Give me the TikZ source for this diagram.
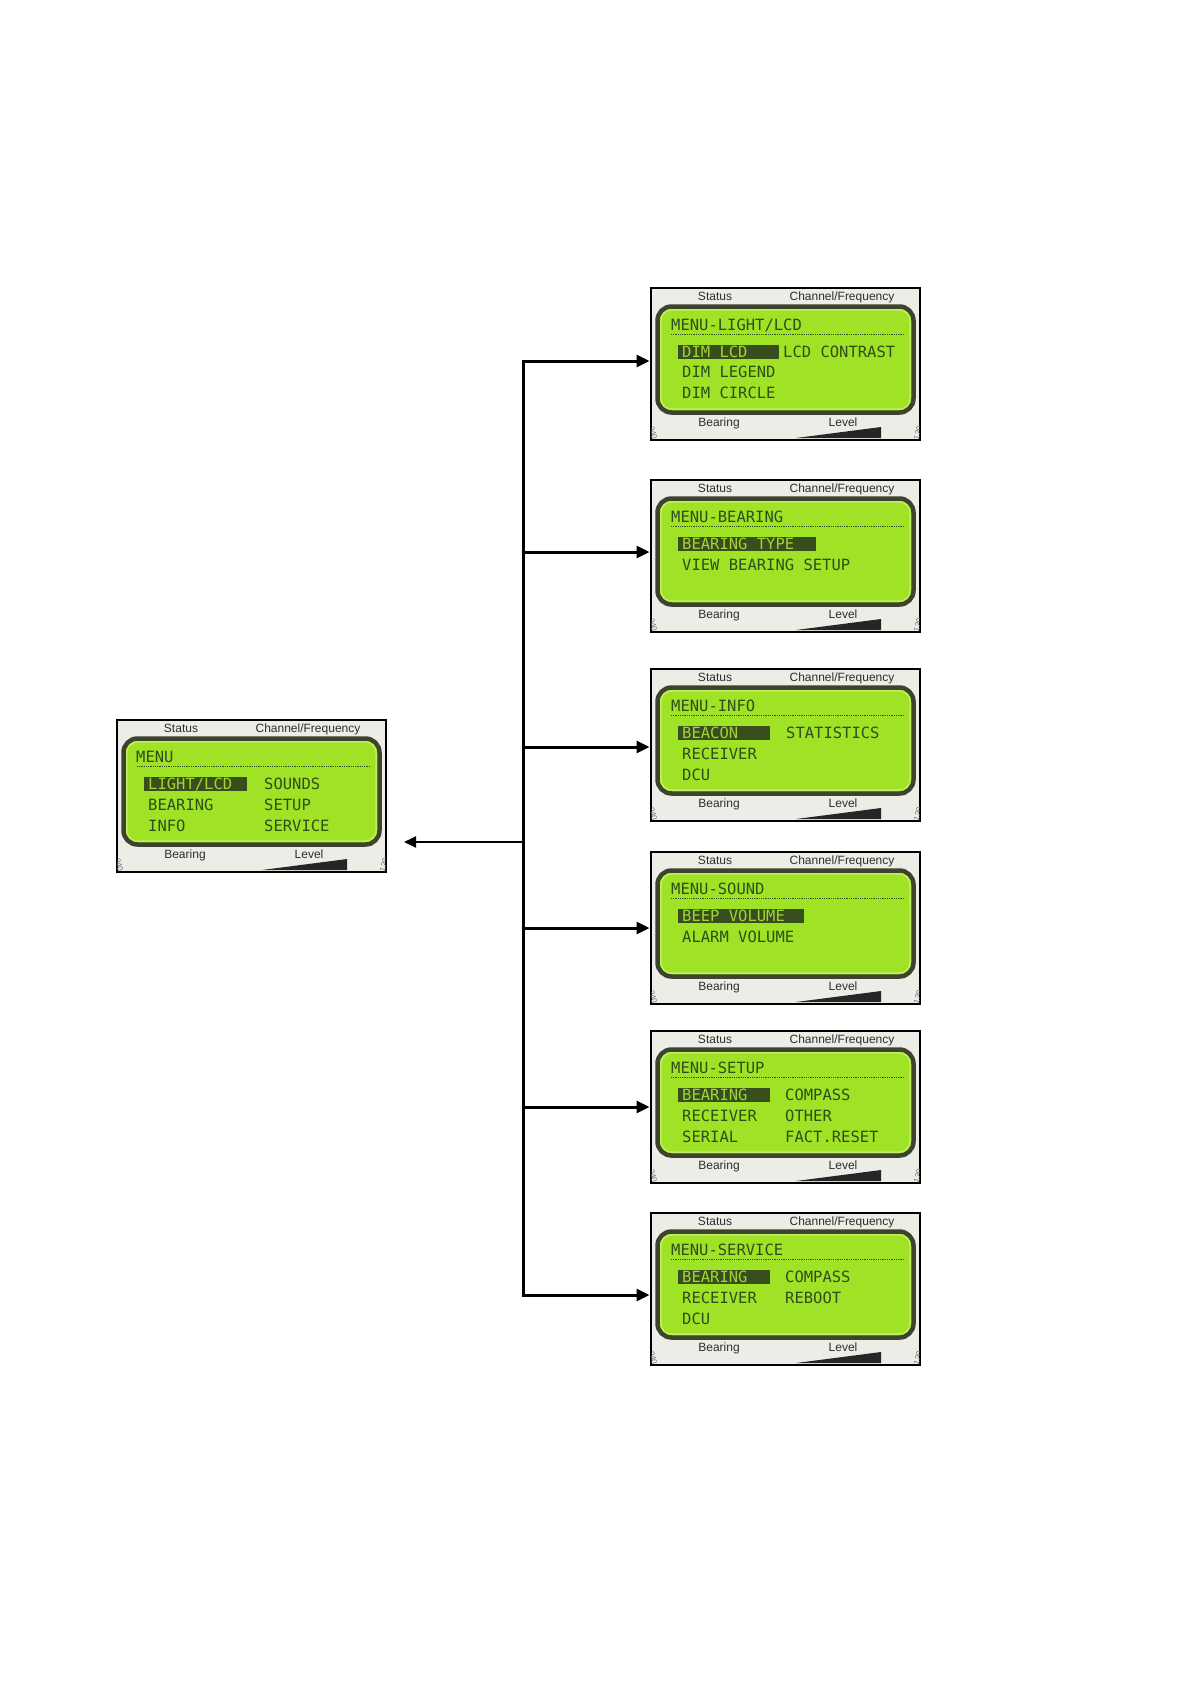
\documentclass[tikz,border=0pt]{standalone}
\usepackage{fontspec}
\setmainfont{Liberation Sans}
\newfontfamily\lcdfont{DejaVu Sans Mono}
\usetikzlibrary{arrows.meta,calc}
\definecolor{lcdgreen}{RGB}{160,226,38}
\definecolor{lcdrim}{RGB}{192,238,96}
\definecolor{bezel}{RGB}{60,68,46}
\definecolor{lcdink}{RGB}{48,78,24}
\definecolor{hlbg}{RGB}{56,78,28}
\definecolor{hltext}{RGB}{160,214,52}
\definecolor{framebg}{RGB}{237,237,231}
\definecolor{lbltext}{RGB}{45,45,45}
\tikzset{
 scr/.style={draw=black, line width=1.2pt, fill=framebg, minimum width=269pt, minimum height=152pt, inner sep=0pt, outer sep=0pt},
 lbl/.style={font=\fontsize{12}{12}\selectfont, text=lbltext, inner sep=0pt, anchor=base},
 tiny/.style={font=\fontsize{8}{8}\selectfont, text=black!55, inner sep=0pt},
 lcdtext/.style={font=\lcdfont\fontsize{15.5}{15.5}\selectfont, text=lcdink, inner sep=0pt, anchor=base west},
 lcdhl/.style={lcdtext, text=hltext},
 trunk/.style={line width=3pt, line cap=rect},
 conn/.style={line width=3pt, shorten >=1.5pt, -{Triangle[length=13pt,width=12pt]}},
 back/.style={line width=2pt, -{Triangle[length=12pt,width=11pt]}},
}
\newcommand{\lcdscreen}[5]{%
  \node[scr, anchor=north west] (#1) at (#2,#3) {};
  \begin{scope}[shift={(#1.north west)}]
    \begin{scope}
      \clip (0.6,0.6) rectangle (268.4,151.4);
      \node[tiny, rotate=-75] (#1-n1) at (2,145) {240};
      \node[tiny, rotate=75] (#1-n2) at (267,145) {120};
    \end{scope}
    \node[lbl] (#1-st) at (64,12.5) {Status};
    \node[lbl] (#1-cf) at (191,12.5) {Channel/Frequency};
    \draw[line width=4.5pt, draw=bezel, fill=lcdgreen, rounded corners=14pt] (6.5,18.5) rectangle (262.5,124.5);
    \draw[line width=1.5pt, draw=lcdrim, rounded corners=11pt] (9.8,21.8) rectangle (259.2,121.2);
    \draw[lcdink, line width=1.6pt, dash pattern=on 1pt off 0.8pt] (20,46.5) -- (254,46.5);
    \fill[hlbg] (27,56.5) rectangle (#4,70.5);
    \node[lbl] (#1-br) at (68,138) {Bearing};
    \node[lbl] (#1-lv) at (192,138) {Level};
    \fill[black!85] (145,150) -- (230,139) -- (230,150) -- cycle;
    #5
  \end{scope}}
\begin{document}
\begin{tikzpicture}[x=1pt,y=-1pt]
\fill[white] (0,0) rectangle (1190,1684);
\useasboundingbox (0,0) rectangle (1190,1684);

% main menu
\lcdscreen{menu}{117}{720}{130}{
 \node[lcdtext] (m-t) at (19,42) {MENU};
 \node[lcdhl] (m-a1) at (31,69.5) {LIGHT/LCD};
 \node[lcdtext] (m-b1) at (147,69.5) {SOUNDS};
 \node[lcdtext] (m-a2) at (31,90) {BEARING};
 \node[lcdtext] (m-b2) at (147,90) {SETUP};
 \node[lcdtext] (m-a3) at (31,111.5) {INFO};
 \node[lcdtext] (m-b3) at (147,111.5) {SERVICE};
}
% light/lcd
\lcdscreen{s1}{651}{288}{128}{
 \node[lcdtext] (s1-t) at (20,42) {MENU-LIGHT/LCD};
 \node[lcdhl] (s1-a1) at (31,69) {DIM LCD};
 \node[lcdtext] (s1-b1) at (132,69) {LCD CONTRAST};
 \node[lcdtext] (s1-a2) at (31,89.5) {DIM LEGEND};
 \node[lcdtext] (s1-a3) at (31,110.5) {DIM CIRCLE};
}
% bearing
\lcdscreen{s2}{651}{480}{165}{
 \node[lcdtext] (s2-t) at (20,42) {MENU-BEARING};
 \node[lcdhl] (s2-a1) at (31,69.5) {BEARING TYPE};
 \node[lcdtext] (s2-a2) at (31,90) {VIEW BEARING SETUP};
}
% info
\lcdscreen{s3}{651}{669}{119}{
 \node[lcdtext] (s3-t) at (20,42) {MENU-INFO};
 \node[lcdhl] (s3-a1) at (31,69.5) {BEACON};
 \node[lcdtext] (s3-b1) at (135,69.5) {STATISTICS};
 \node[lcdtext] (s3-a2) at (31,90.5) {RECEIVER};
 \node[lcdtext] (s3-a3) at (31,111) {DCU};
}
% sound
\lcdscreen{s4}{651}{852}{153}{
 \node[lcdtext] (s4-t) at (20,42) {MENU-SOUND};
 \node[lcdhl] (s4-a1) at (31,69.5) {BEEP VOLUME};
 \node[lcdtext] (s4-a2) at (31,90) {ALARM VOLUME};
}
% setup
\lcdscreen{s5}{651}{1031}{119}{
 \node[lcdtext] (s5-t) at (20,42) {MENU-SETUP};
 \node[lcdhl] (s5-a1) at (31,69.5) {BEARING};
 \node[lcdtext] (s5-b1) at (134,69.5) {COMPASS};
 \node[lcdtext] (s5-a2) at (31,90.5) {RECEIVER};
 \node[lcdtext] (s5-b2) at (134,90.5) {OTHER};
 \node[lcdtext] (s5-a3) at (31,111) {SERIAL};
 \node[lcdtext] (s5-b3) at (134,111) {FACT.RESET};
}
% service
\lcdscreen{s6}{651}{1213}{119}{
 \node[lcdtext] (s6-t) at (20,42) {MENU-SERVICE};
 \node[lcdhl] (s6-a1) at (31,69.5) {BEARING};
 \node[lcdtext] (s6-b1) at (134,69.5) {COMPASS};
 \node[lcdtext] (s6-a2) at (31,90.5) {RECEIVER};
 \node[lcdtext] (s6-b2) at (134,90.5) {REBOOT};
 \node[lcdtext] (s6-a3) at (31,111) {DCU};
}

% connectors
\coordinate (j1) at (523,361);
\coordinate (j2) at (523,552);
\coordinate (j3) at (523,747);
\coordinate (j4) at (523,928);
\coordinate (j5) at (523,1107);
\coordinate (j6) at (523,1295);
\coordinate (jm) at (523,842);
\coordinate (mtip) at (404,842);
\draw[trunk] (j1) -- (j6);
\draw[conn] (j1) -- (j1 -| s1.west);
\draw[conn] (j2) -- (j2 -| s2.west);
\draw[conn] (j3) -- (j3 -| s3.west);
\draw[conn] (j4) -- (j4 -| s4.west);
\draw[conn] (j5) -- (j5 -| s5.west);
\draw[conn] (j6) -- (j6 -| s6.west);
\draw[back] (jm) -- (mtip);
\end{tikzpicture}
\end{document}
